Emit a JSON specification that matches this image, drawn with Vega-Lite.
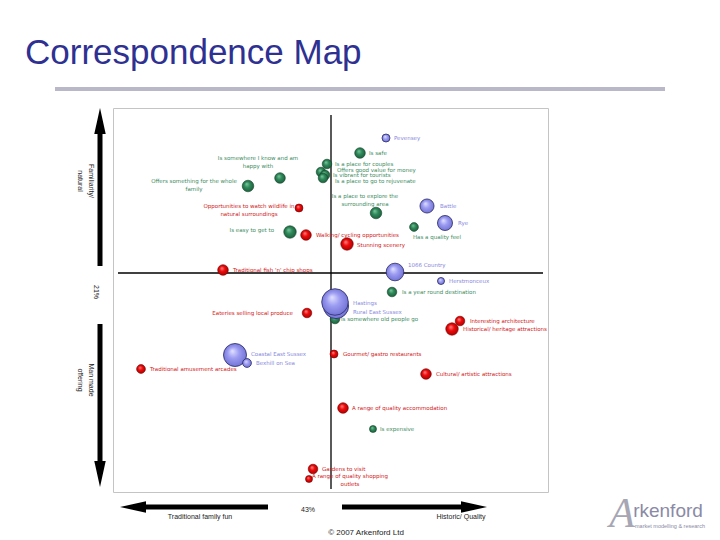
{
  "$schema": "https://vega.github.io/schema/vega-lite/v6.json",
  "width": 435,
  "height": 384,
  "autosize": {"type": "none"},
  "padding": {"left": 113, "top": 108, "right": 172, "bottom": 48},
  "background": "white",
  "config": {"view": {"stroke": "#c4c4c4", "strokeWidth": 1}},
  "title": {"text": "Correspondence Map", "anchor": "start", "frame": "group", "dx": -88, "offset": -12, "baseline": "alphabetic", "font": "Liberation Sans", "fontSize": 35, "fontWeight": "normal", "color": "#2e3192"},
  "datasets": {
    "points": [
      {"name": "Is safe", "type": "Image", "x": 0.29, "y": 1.20, "weight": 16, "lx": 0.38, "ly": 1.20, "anchor": "left"},
      {"name": "Is a place for couples", "type": "Image", "x": -0.04, "y": 1.09, "weight": 13, "lx": 0.04, "ly": 1.09, "anchor": "left"},
      {"name": "Offers good value for money", "type": "Image", "x": -0.10, "y": 1.01, "weight": 13, "lx": 0.06, "ly": 1.035, "anchor": "left"},
      {"name": "Is vibrant for tourists", "type": "Image", "x": -0.06, "y": 0.98, "weight": 13, "lx": 0.02, "ly": 0.98, "anchor": "left"},
      {"name": "Is a place to go to rejuvenate", "type": "Image", "x": -0.08, "y": 0.95, "weight": 13, "lx": 0.04, "ly": 0.92, "anchor": "left"},
      {"name": "Is somewhere I know and am\nhappy with", "type": "Image", "x": -0.51, "y": 0.95, "weight": 16, "lx": -0.73, "ly": 1.15, "anchor": "center"},
      {"name": "Offers something for the whole\nfamily", "type": "Image", "x": -0.83, "y": 0.87, "weight": 19, "lx": -1.37, "ly": 0.92, "anchor": "center"},
      {"name": "Is a place to explore the\nsurrounding area", "type": "Image", "x": 0.45, "y": 0.60, "weight": 19, "lx": 0.34, "ly": 0.77, "anchor": "center"},
      {"name": "Has a quality feel", "type": "Image", "x": 0.83, "y": 0.46, "weight": 11, "lx": 1.06, "ly": 0.36, "anchor": "center"},
      {"name": "Is easy to get to", "type": "Image", "x": -0.41, "y": 0.41, "weight": 22, "lx": -0.57, "ly": 0.43, "anchor": "right"},
      {"name": "Is a year round destination", "type": "Image", "x": 0.61, "y": -0.19, "weight": 13, "lx": 0.71, "ly": -0.19, "anchor": "left"},
      {"name": "Is somewhere old people go", "type": "Image", "x": 0.04, "y": -0.46, "weight": 13, "lx": 0.10, "ly": -0.46, "anchor": "left"},
      {"name": "Is expensive", "type": "Image", "x": 0.42, "y": -1.56, "weight": 7, "lx": 0.49, "ly": -1.56, "anchor": "left"},
      {"name": "Opportunities to watch wildlife in\nnatural surroundings", "type": "Product", "x": -0.32, "y": 0.65, "weight": 9, "lx": -0.82, "ly": 0.67, "anchor": "center"},
      {"name": "Walking/ cycling opportunities", "type": "Product", "x": -0.25, "y": 0.38, "weight": 16, "lx": -0.15, "ly": 0.38, "anchor": "left"},
      {"name": "Stunning scenery", "type": "Product", "x": 0.16, "y": 0.29, "weight": 22, "lx": 0.26, "ly": 0.28, "anchor": "left"},
      {"name": "Traditional fish 'n' chip shops", "type": "Product", "x": -1.08, "y": 0.03, "weight": 16, "lx": -0.98, "ly": 0.03, "anchor": "left"},
      {"name": "Eateries selling local produce", "type": "Product", "x": -0.24, "y": -0.40, "weight": 13, "lx": -0.38, "ly": -0.40, "anchor": "right"},
      {"name": "Traditional amusement arcades", "type": "Product", "x": -1.90, "y": -0.96, "weight": 11, "lx": -1.81, "ly": -0.96, "anchor": "left"},
      {"name": "Interesting architecture", "type": "Product", "x": 1.29, "y": -0.48, "weight": 13, "lx": 1.39, "ly": -0.48, "anchor": "left"},
      {"name": "Historical/ heritage attractions", "type": "Product", "x": 1.21, "y": -0.56, "weight": 22, "lx": 1.32, "ly": -0.56, "anchor": "left"},
      {"name": "Gourmet/ gastro restaurants", "type": "Product", "x": 0.03, "y": -0.81, "weight": 9, "lx": 0.12, "ly": -0.81, "anchor": "left"},
      {"name": "Cultural/ artistic attractions", "type": "Product", "x": 0.95, "y": -1.01, "weight": 16, "lx": 1.05, "ly": -1.01, "anchor": "left"},
      {"name": "A range of quality accommodation", "type": "Product", "x": 0.12, "y": -1.35, "weight": 16, "lx": 0.21, "ly": -1.35, "anchor": "left"},
      {"name": "Gardens to visit", "type": "Product", "x": -0.18, "y": -1.96, "weight": 13, "lx": -0.09, "ly": -1.96, "anchor": "left"},
      {"name": "A range of quality shopping\noutlets", "type": "Product", "x": -0.22, "y": -2.06, "weight": 7, "lx": 0.19, "ly": -2.03, "anchor": "center"},
      {"name": "Pevensey", "type": "Destination", "x": 0.55, "y": 1.35, "weight": 9, "lx": 0.63, "ly": 1.35, "anchor": "left"},
      {"name": "Battle", "type": "Destination", "x": 0.96, "y": 0.67, "weight": 28, "lx": 1.09, "ly": 0.67, "anchor": "left"},
      {"name": "Rye", "type": "Destination", "x": 1.14, "y": 0.50, "weight": 32, "lx": 1.27, "ly": 0.50, "anchor": "left"},
      {"name": "1066 Country", "type": "Destination", "x": 0.64, "y": 0.01, "weight": 44, "lx": 0.77, "ly": 0.08, "anchor": "left"},
      {"name": "Herstmonceux", "type": "Destination", "x": 1.10, "y": -0.08, "weight": 7, "lx": 1.18, "ly": -0.08, "anchor": "left"},
      {"name": "Rural East Sussex", "type": "Destination", "x": 0.05, "y": -0.33, "weight": 90, "lx": 0.22, "ly": -0.39, "anchor": "left"},
      {"name": "Hastings", "type": "Destination", "x": 0.04, "y": -0.29, "weight": 100, "lx": 0.22, "ly": -0.30, "anchor": "left"},
      {"name": "Coastal East Sussex", "type": "Destination", "x": -0.96, "y": -0.82, "weight": 75, "lx": -0.80, "ly": -0.81, "anchor": "left"},
      {"name": "Bexhill on Sea", "type": "Destination", "x": -0.84, "y": -0.90, "weight": 11, "lx": -0.75, "ly": -0.90, "anchor": "left"}
    ],
    "crosshair": [
      {"x": -2.13, "y": 0, "x2": 2.12, "y2": 0},
      {"x": 0, "y": 1.58, "x2": 0, "y2": -2.16}
    ],
    "divider": [
      {"x": -2.76, "y": 1.84, "x2": 3.34, "y2": 1.84}
    ],
    "shafts": [
      {"x": -2.31, "y": 1.52, "x2": -2.31, "y2": 0.07},
      {"x": -2.31, "y": -0.51, "x2": -2.31, "y2": -2.01},
      {"x": -1.98, "y": -2.34, "x2": -0.63, "y2": -2.34},
      {"x": 0.11, "y": -2.34, "x2": 1.43, "y2": -2.34}
    ],
    "heads": [
      {"x": -2.31, "y": 1.52, "dir": "up"},
      {"x": -2.31, "y": -2.01, "dir": "down"},
      {"x": -1.98, "y": -2.34, "dir": "left"},
      {"x": 1.43, "y": -2.34, "dir": "right"}
    ],
    "notes": [
      {"text": "Familiarity/\nnatural", "x": -2.40, "y": 0.92, "kind": "vertical"},
      {"text": "21%", "x": -2.35, "y": -0.19, "kind": "vertical"},
      {"text": "Man made\noffering", "x": -2.40, "y": -1.07, "kind": "vertical"},
      {"text": "Traditional family fun", "x": -1.31, "y": -2.44, "kind": "horizontal"},
      {"text": "43%", "x": -0.23, "y": -2.37, "kind": "horizontal"},
      {"text": "Historic/ Quality", "x": 1.30, "y": -2.44, "kind": "horizontal"},
      {"text": "© 2007 Arkenford Ltd", "x": 0.35, "y": -2.60, "kind": "credit"},
      {"text": "A", "x": 2.91, "y": -2.41, "kind": "logoA"},
      {"text": "rkenford", "x": 3.37, "y": -2.38, "kind": "logo"},
      {"text": "market modelling & research", "x": 3.39, "y": -2.53, "kind": "logosub"}
    ]
  },
  "layer": [
    {
      "data": {"name": "divider"},
      "mark": {"type": "rule", "stroke": "#b8b8c8", "strokeWidth": 4},
      "encoding": {
        "x": {"field": "x", "type": "quantitative", "scale": {"domain": [-2.18, 2.17], "nice": false, "zero": false}, "axis": null},
        "y": {"field": "y", "type": "quantitative", "scale": {"domain": [-2.19, 1.65], "nice": false, "zero": false}, "axis": null},
        "x2": {"field": "x2"},
        "y2": {"field": "y2"}
      }
    },
    {
      "data": {"name": "crosshair"},
      "mark": {"type": "rule", "stroke": "#000000", "strokeWidth": 1.3},
      "encoding": {
        "x": {"field": "x", "type": "quantitative"},
        "y": {"field": "y", "type": "quantitative"},
        "x2": {"field": "x2"},
        "y2": {"field": "y2"}
      }
    },
    {
      "data": {"name": "shafts"},
      "mark": {"type": "rule", "stroke": "#000000", "strokeWidth": 5},
      "encoding": {
        "x": {"field": "x", "type": "quantitative"},
        "y": {"field": "y", "type": "quantitative"},
        "x2": {"field": "x2"},
        "y2": {"field": "y2"}
      }
    },
    {
      "data": {"name": "heads"},
      "mark": {"type": "point", "filled": true, "fill": "#000000", "opacity": 1, "size": 676},
      "encoding": {
        "x": {"field": "x", "type": "quantitative"},
        "y": {"field": "y", "type": "quantitative"},
        "shape": {"field": "dir", "type": "nominal", "legend": null, "scale": {"domain": ["up", "down", "left", "right"], "range": ["M0,-1L0.44,1L-0.44,1Z", "M0,1L0.44,-1L-0.44,-1Z", "M-1,0L1,0.44L1,-0.44Z", "M1,0L-1,0.44L-1,-0.44Z"]}}
      }
    },
    {
      "data": {"name": "notes"},
      "transform": [{"filter": "datum.kind === 'vertical'"}],
      "mark": {"type": "text", "angle": 90, "font": "Liberation Sans", "fontSize": 7, "lineBreak": "\n", "lineHeight": 11, "color": "#222222"},
      "encoding": {
        "x": {"field": "x", "type": "quantitative"},
        "y": {"field": "y", "type": "quantitative"},
        "text": {"field": "text"}
      }
    },
    {
      "data": {"name": "notes"},
      "transform": [{"filter": "datum.kind === 'horizontal'"}],
      "mark": {"type": "text", "font": "Liberation Sans", "fontSize": 7, "color": "#222222"},
      "encoding": {
        "x": {"field": "x", "type": "quantitative"},
        "y": {"field": "y", "type": "quantitative"},
        "text": {"field": "text"}
      }
    },
    {
      "data": {"name": "notes"},
      "transform": [{"filter": "datum.kind === 'credit'"}],
      "mark": {"type": "text", "font": "Liberation Sans", "fontSize": 8, "color": "#222222"},
      "encoding": {
        "x": {"field": "x", "type": "quantitative"},
        "y": {"field": "y", "type": "quantitative"},
        "text": {"field": "text"}
      }
    },
    {
      "data": {"name": "notes"},
      "transform": [{"filter": "datum.kind === 'logoA'"}],
      "mark": {"type": "text", "font": "Liberation Serif", "fontSize": 42, "fontStyle": "italic", "color": "#a6a6b4"},
      "encoding": {
        "x": {"field": "x", "type": "quantitative"},
        "y": {"field": "y", "type": "quantitative"},
        "text": {"field": "text"}
      }
    },
    {
      "data": {"name": "notes"},
      "transform": [{"filter": "datum.kind === 'logo'"}],
      "mark": {"type": "text", "font": "Liberation Sans", "fontSize": 19, "color": "#8a8aa6"},
      "encoding": {
        "x": {"field": "x", "type": "quantitative"},
        "y": {"field": "y", "type": "quantitative"},
        "text": {"field": "text"}
      }
    },
    {
      "data": {"name": "notes"},
      "transform": [{"filter": "datum.kind === 'logosub'"}],
      "mark": {"type": "text", "font": "Liberation Sans", "fontSize": 5.5, "color": "#8a8aa6"},
      "encoding": {
        "x": {"field": "x", "type": "quantitative"},
        "y": {"field": "y", "type": "quantitative"},
        "text": {"field": "text"}
      }
    },
    {
      "data": {"name": "points"},
      "transform": [{"filter": "datum.anchor === 'left'"}],
      "mark": {"type": "text", "align": "left", "font": "DejaVu Sans", "lineBreak": "\n", "lineHeight": 7.5},
      "encoding": {
        "x": {"field": "lx", "type": "quantitative"},
        "y": {"field": "ly", "type": "quantitative"},
        "text": {"field": "name"},
        "color": {"field": "type", "type": "nominal", "legend": null, "scale": {"domain": ["Image", "Product", "Destination"], "range": ["#3c8c60", "#d01818", "#8888dc"]}},
        "size": {"field": "type", "type": "nominal", "legend": null, "scale": {"domain": ["Image", "Product", "Destination"], "range": [5.5, 5.5, 6.3]}}
      }
    },
    {
      "data": {"name": "points"},
      "transform": [{"filter": "datum.anchor === 'right'"}],
      "mark": {"type": "text", "align": "right", "font": "DejaVu Sans", "lineBreak": "\n", "lineHeight": 7.5},
      "encoding": {
        "x": {"field": "lx", "type": "quantitative"},
        "y": {"field": "ly", "type": "quantitative"},
        "text": {"field": "name"},
        "color": {"field": "type", "type": "nominal", "legend": null, "scale": {"domain": ["Image", "Product", "Destination"], "range": ["#3c8c60", "#d01818", "#8888dc"]}},
        "size": {"field": "type", "type": "nominal", "legend": null, "scale": {"domain": ["Image", "Product", "Destination"], "range": [5.5, 5.5, 6.3]}}
      }
    },
    {
      "data": {"name": "points"},
      "transform": [{"filter": "datum.anchor === 'center'"}],
      "mark": {"type": "text", "align": "center", "font": "DejaVu Sans", "lineBreak": "\n", "lineHeight": 7.5},
      "encoding": {
        "x": {"field": "lx", "type": "quantitative"},
        "y": {"field": "ly", "type": "quantitative"},
        "text": {"field": "name"},
        "color": {"field": "type", "type": "nominal", "legend": null, "scale": {"domain": ["Image", "Product", "Destination"], "range": ["#3c8c60", "#d01818", "#8888dc"]}},
        "size": {"field": "type", "type": "nominal", "legend": null, "scale": {"domain": ["Image", "Product", "Destination"], "range": [5.5, 5.5, 6.3]}}
      }
    },
    {
      "data": {"name": "points"},
      "transform": [{"filter": "datum.type === 'Image'"}],
      "mark": {"type": "point", "shape": "circle", "filled": true, "opacity": 1, "stroke": "#14472b", "strokeWidth": 0.6,
        "fill": {"gradient": "radial", "x1": 0.38, "y1": 0.32, "r1": 0, "x2": 0.5, "y2": 0.5, "r2": 0.55, "stops": [{"offset": 0, "color": "#7fc9a0"}, {"offset": 0.45, "color": "#2f8a5a"}, {"offset": 1, "color": "#1b5a39"}]}},
      "encoding": {
        "x": {"field": "x", "type": "quantitative"},
        "y": {"field": "y", "type": "quantitative"},
        "size": {"field": "weight", "type": "quantitative", "legend": null, "scale": {"domain": [0, 100], "range": [0, 707]}}
      }
    },
    {
      "data": {"name": "points"},
      "transform": [{"filter": "datum.type === 'Product'"}],
      "mark": {"type": "point", "shape": "circle", "filled": true, "opacity": 1, "stroke": "#7a0000", "strokeWidth": 0.6,
        "fill": {"gradient": "radial", "x1": 0.38, "y1": 0.32, "r1": 0, "x2": 0.5, "y2": 0.5, "r2": 0.55, "stops": [{"offset": 0, "color": "#ff8c8c"}, {"offset": 0.45, "color": "#ee0a0a"}, {"offset": 1, "color": "#a80000"}]}},
      "encoding": {
        "x": {"field": "x", "type": "quantitative"},
        "y": {"field": "y", "type": "quantitative"},
        "size": {"field": "weight", "type": "quantitative", "legend": null, "scale": {"domain": [0, 100], "range": [0, 707]}}
      }
    },
    {
      "data": {"name": "points"},
      "transform": [{"filter": "datum.type === 'Destination'"}],
      "mark": {"type": "point", "shape": "circle", "filled": true, "opacity": 1, "stroke": "#2a2a66", "strokeWidth": 0.8,
        "fill": {"gradient": "radial", "x1": 0.38, "y1": 0.32, "r1": 0, "x2": 0.5, "y2": 0.5, "r2": 0.55, "stops": [{"offset": 0, "color": "#e2e2ff"}, {"offset": 0.45, "color": "#9c9cf2"}, {"offset": 1, "color": "#6e6ed2"}]}},
      "encoding": {
        "x": {"field": "x", "type": "quantitative"},
        "y": {"field": "y", "type": "quantitative"},
        "size": {"field": "weight", "type": "quantitative", "legend": null, "scale": {"domain": [0, 100], "range": [0, 707]}}
      }
    }
  ]
}
